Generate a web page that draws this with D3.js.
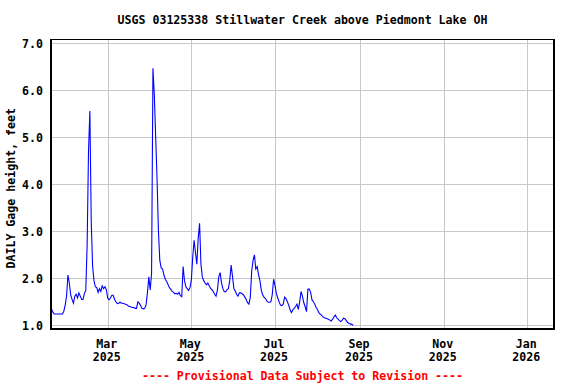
<!DOCTYPE html>
<html>
<head>
<meta charset="utf-8">
<script src="https://cdn.jsdelivr.net/npm/d3@7"></script>
<style>
  html, body { margin: 0; padding: 0; background: #fff; }
  svg { display: block; }
  text { font-family: "DejaVu Sans Mono", "Liberation Mono", monospace; font-weight: bold; font-size: 11.6px; }
</style>
</head>
<body>
<svg id="chart" width="576" height="384"></svg>
<script>
// ---- data ----
const titleText = "USGS 03125338 Stillwater Creek above Piedmont Lake OH";
const yTitle = "DAILY Gage height, feet";
const footerText = "---- Provisional Data Subject to Revision ----";
const startDate = "2025-01-19";
const gageHeight = [
  1.35, 1.28, 1.24, 1.24, 1.24, 1.24, 1.24, 1.24, 1.24, 1.30,
  1.43, 1.62, 2.07, 1.90, 1.65, 1.55, 1.47, 1.62, 1.66, 1.58,
  1.69, 1.62, 1.55, 1.55, 1.68, 1.74, 2.70, 4.70, 5.56, 3.20,
  2.25, 1.95, 1.82, 1.80, 1.70, 1.78, 1.72, 1.84, 1.78, 1.82,
  1.76, 1.58, 1.54, 1.58, 1.64, 1.64, 1.55, 1.50, 1.46, 1.47,
  1.49, 1.47, 1.47, 1.46, 1.45, 1.44, 1.41, 1.40, 1.39, 1.38,
  1.38, 1.36, 1.36, 1.50, 1.47, 1.42, 1.36, 1.35, 1.36, 1.44,
  1.70, 2.03, 1.75, 2.10, 6.47, 5.90, 5.00, 4.10, 3.00, 2.38,
  2.22, 2.20, 2.07, 1.98, 1.93, 1.87, 1.80, 1.77, 1.72, 1.70,
  1.67, 1.68, 1.66, 1.70, 1.63, 1.61, 2.25, 1.95, 1.82, 1.78,
  1.74, 1.80, 1.96, 2.45, 2.81, 2.55, 2.30, 2.85, 3.17, 2.30,
  2.03, 1.95, 1.90, 1.86, 1.90, 1.84, 1.79, 1.76, 1.72, 1.66,
  1.62, 1.75, 2.03, 2.12, 1.90, 1.78, 1.72, 1.71, 1.76, 1.78,
  1.95, 2.28, 2.05, 1.78, 1.73, 1.66, 1.62, 1.69, 1.69, 1.67,
  1.65, 1.60, 1.55, 1.48, 1.45, 1.60, 2.15, 2.38, 2.50, 2.20,
  2.25, 2.08, 1.95, 1.75, 1.65, 1.60, 1.57, 1.52, 1.49, 1.49,
  1.50, 1.65, 1.98, 1.85, 1.68, 1.58, 1.50, 1.43, 1.42, 1.45,
  1.60, 1.57, 1.50, 1.43, 1.33, 1.27, 1.33, 1.36, 1.40, 1.45,
  1.34, 1.50, 1.72, 1.62, 1.48, 1.40, 1.29, 1.77, 1.77, 1.70,
  1.54, 1.50, 1.45, 1.38, 1.33, 1.27, 1.24, 1.21, 1.18, 1.16,
  1.15, 1.14, 1.13, 1.11, 1.09, 1.13, 1.18, 1.22, 1.16, 1.13,
  1.10, 1.08, 1.11, 1.15, 1.14, 1.10, 1.06, 1.04, 1.03, 1.02,
  1.00
];
const xDomain = ["2025-01-18T15:36:00Z", "2026-01-20T11:17:00Z"];
const xTickDates = ["2025-03-01", "2025-05-01", "2025-07-01", "2025-09-01", "2025-11-01", "2026-01-01"];
const xTickMonths = ["Mar", "May", "Jul", "Sep", "Nov", "Jan"];
const xTickYears = ["2025", "2025", "2025", "2025", "2025", "2026"];
const yTicks = [1, 2, 3, 4, 5, 6, 7];

// ---- layout ----
const L = 51, R = 554, T = 39.5, B = 329;
const svg = d3.select("#chart");

const x = d3.scaleUtc().domain(xDomain.map(d => new Date(d))).range([L, R]);
const y = d3.scaleLinear().domain([1, 7]).range([325.3, 43.3]);

const t0 = new Date(startDate + "T00:00:00Z");
const data = gageHeight.map((v, i) => ({ date: d3.utcDay.offset(t0, i), v }));

// grid
const grid = svg.append("g").attr("shape-rendering", "crispEdges");
grid.selectAll("line.h").data(yTicks).join("line")
  .attr("x1", L).attr("x2", R)
  .attr("y1", d => Math.round(y(d)) + 0.5).attr("y2", d => Math.round(y(d)) + 0.5)
  .attr("stroke", "#c8c8c8").attr("stroke-width", 1);
grid.selectAll("line.v").data(xTickDates).join("line")
  .attr("y1", T).attr("y2", B)
  .attr("x1", d => Math.round(x(new Date(d + "T00:00:00Z"))) + 0.5)
  .attr("x2", d => Math.round(x(new Date(d + "T00:00:00Z"))) + 0.5)
  .attr("stroke", "#c8c8c8").attr("stroke-width", 1);

// line
svg.append("path").datum(data)
  .attr("fill", "none").attr("stroke", "#0000ff").attr("stroke-width", 1.1)
  .attr("stroke-linejoin", "miter")
  .attr("d", d3.line().x(d => x(d.date)).y(d => y(d.v)));

// frame
svg.append("rect").attr("x", L).attr("y", T).attr("width", R - L).attr("height", B - T)
  .attr("fill", "none").attr("stroke", "#000").attr("stroke-width", 1.6)
  .attr("shape-rendering", "crispEdges");

// y tick labels
svg.selectAll("text.yt").data(yTicks).join("text")
  .attr("x", 43).attr("y", d => y(d) + 4.5)
  .attr("text-anchor", "end").text(d => d.toFixed(1));

// x tick labels
svg.selectAll("text.xm").data(xTickDates).join("text")
  .attr("x", d => x(new Date(d + "T00:00:00Z")) - 1).attr("y", 348)
  .attr("text-anchor", "middle").text((d, i) => xTickMonths[i]);
svg.selectAll("text.xy").data(xTickDates).join("text")
  .attr("x", d => x(new Date(d + "T00:00:00Z")) - 1).attr("y", 361)
  .attr("text-anchor", "middle").text((d, i) => xTickYears[i]);

// title
svg.append("text").attr("x", (L + R) / 2).attr("y", 24)
  .attr("text-anchor", "middle").text(titleText);

// y title
svg.append("text").attr("transform", "translate(15," + ((T + B) / 2 + 4) + ") rotate(-90)")
  .attr("text-anchor", "middle").text(yTitle);

// footer
svg.append("text").attr("x", (L + R) / 2).attr("y", 380)
  .attr("text-anchor", "middle").attr("fill", "#ff0000").text(footerText);
</script>
</body>
</html>
